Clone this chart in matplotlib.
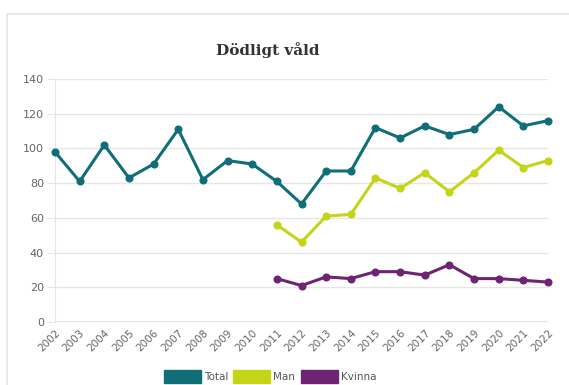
import matplotlib.pyplot as plt
from matplotlib.patches import Rectangle

years = list(range(2002, 2023))
total = [98, 81, 102, 83, 91, 111, 82, 93, 91, 81, 68, 87, 87, 112, 106, 113, 108, 111, 124, 113, 116]
man_years = list(range(2011, 2023))
man = [56, 46, 61, 62, 83, 77, 86, 75, 86, 99, 89, 93]
kvinna = [25, 21, 26, 25, 29, 29, 27, 33, 25, 25, 24, 23]

colors = {"Total": "#0f6e78", "Man": "#c4d416", "Kvinna": "#6e2473"}

fig = plt.figure(figsize=(5.69, 3.85), dpi=100)
fig.patch.set_facecolor("white")

# card border
fig.patches.append(Rectangle((7 / 569, -0.1), 1.0, 1 - 14 / 385 + 0.1, transform=fig.transFigure,
                             fill=False, edgecolor="#e6e6e6", linewidth=1.2))

ax = fig.add_axes([55 / 569, 1 - 322 / 385, (548 - 55) / 569, (322 - 79) / 385])

ax.plot(years, total, color=colors["Total"], lw=2.2, marker="o", ms=4.8, clip_on=False, zorder=3)
ax.plot(man_years, man, color=colors["Man"], lw=2.2, marker="o", ms=4.8, clip_on=False, zorder=3)
ax.plot(man_years, kvinna, color=colors["Kvinna"], lw=2.2, marker="o", ms=4.8, clip_on=False, zorder=3)

ax.set_xlim(2002, 2022)
ax.set_ylim(0, 140)
ax.set_yticks(range(0, 141, 20))
ax.set_xticks(years)
ax.set_xticklabels([str(y) for y in years], rotation=45, ha="right", rotation_mode="anchor")
ax.grid(axis="y", color="#e6e6e6", lw=1)
ax.set_axisbelow(True)
for s in ["top", "right", "bottom"]:
    ax.spines[s].set_visible(False)
ax.spines["left"].set_color("#e6e6e6")
ax.tick_params(axis="y", length=6, color="#e6e6e6", labelsize=8, labelcolor="#666666", pad=2)
ax.tick_params(axis="x", length=0, labelsize=7.5, labelcolor="#666666", pad=4)
ax.axhline(0, color="#e0e0e0", lw=1.2, zorder=1)

fig.text(268 / 569, 1 - 50 / 385, "Dödligt våld", ha="center", va="center",
         fontsize=11, fontweight="bold", family="DejaVu Serif", color="#333333")

# legend
legend_items = [("Total", 164), ("Man", 233), ("Kvinna", 301)]
for label, x0 in legend_items:
    fig.patches.append(Rectangle((x0 / 569, 1 - 383 / 385), 37 / 569, 13 / 385,
                                 transform=fig.transFigure, color=colors[label]))
    fig.text((x0 + 40) / 569, 1 - 377 / 385, label, ha="left", va="center",
             fontsize=7.5, color="#555555")

fig.savefig("out.png", dpi=100)
